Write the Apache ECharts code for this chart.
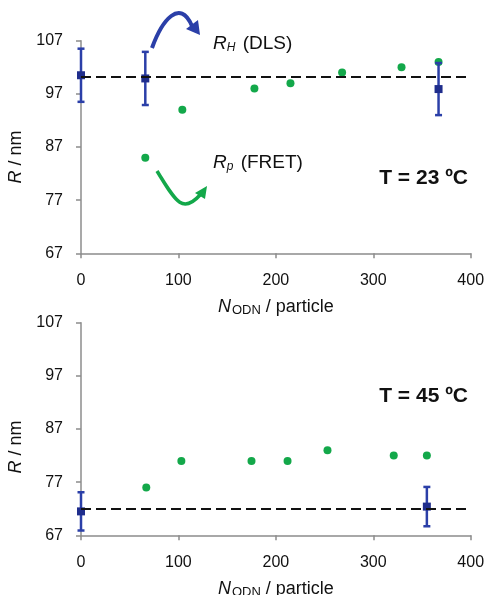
<!DOCTYPE html>
<html>
<head>
<meta charset="utf-8">
<script src="https://cdn.jsdelivr.net/npm/echarts@6/dist/echarts.min.js"></script>
<style>
html,body{margin:0;padding:0;background:#fff;}
#c{width:488px;height:595px;}
</style>
</head>
<body>
<div id="c"></div>
<script>
// ---- data (T = 23 ºC) ----
const dlsX23 = [0, 66, 367];
const dlsY23 = [100.5, 99.9, 97.9];
const dlsErr23 = [5.0, 5.0, 4.9];
const dlsMean23 = 100.2;
const fretX23 = [66, 104, 178, 215, 268, 329, 367];
const fretY23 = [85.0, 94.0, 98.0, 99.0, 101.0, 102.0, 103.0];

// ---- data (T = 45 ºC) ----
const dlsX45 = [0, 355];
const dlsY45 = [71.5, 72.4];
const dlsErr45 = [3.6, 3.7];
const dlsMean45 = 72.0;
const fretX45 = [67, 103, 175, 212, 253, 321, 355];
const fretY45 = [76, 81, 81, 81, 83, 82, 82];

// ---- axes ----
const yMin = 67, yMax = 107, yStep = 10;
const xMin = 0, xMax = 400, xStep = 100;
const panelLabels = ['T = 23 ºC', 'T = 45 ºC'];

const BLUE = '#2b3fa8';
const NAVY = '#1f2d8c';
const GREEN = '#13a84a';
const AXIS = '#8c8c8c';
const FONT = '"Liberation Sans", Arial, sans-serif';

function zip(a, b) { return a.map((v, i) => [v, b[i]]); }

function errData(xs, ys, es) { return xs.map((x, i) => [x, ys[i] - es[i], ys[i] + es[i]]); }

function errSeries(idx, data) {
  return {
    type: 'custom', xAxisIndex: idx, yAxisIndex: idx, z: 3,
    data: data,
    encode: { x: 0, y: [1, 2] },
    renderItem: function (params, api) {
      const x = api.value(0);
      const lo = api.coord([x, api.value(1)]);
      const hi = api.coord([x, api.value(2)]);
      const cw = 3.5;
      const st = { stroke: BLUE, lineWidth: 2.5 };
      return {
        type: 'group',
        children: [
          { type: 'line', shape: { x1: lo[0], y1: lo[1], x2: hi[0], y2: hi[1] }, style: st },
          { type: 'line', shape: { x1: lo[0] - cw, y1: lo[1], x2: lo[0] + cw, y2: lo[1] }, style: st },
          { type: 'line', shape: { x1: hi[0] - cw, y1: hi[1], x2: hi[0] + cw, y2: hi[1] }, style: st }
        ]
      };
    }
  };
}

function xAxisCfg(idx) {
  return {
    type: 'value', gridIndex: idx, min: xMin, max: xMax, interval: xStep,
    axisLine: { show: true, lineStyle: { color: AXIS, width: 1.5 } },
    axisTick: { show: true, length: 5, lineStyle: { color: AXIS, width: 1.5 } },
    splitLine: { show: false },
    axisLabel: { fontFamily: FONT, fontSize: 16, color: '#111', margin: 19 },
    name: '{i|N}{s|ODN}{n| / particle}',
    nameLocation: 'middle', nameGap: 43,
    nameTextStyle: {
      rich: {
        i: { fontFamily: FONT, fontSize: 18, fontStyle: 'italic', color: '#111' },
        s: { fontFamily: FONT, fontSize: 13, color: '#111', verticalAlign: 'bottom', padding: [8, 0, 0, 1] },
        n: { fontFamily: FONT, fontSize: 18, color: '#111' }
      }
    }
  };
}

function yAxisCfg(idx, pad) {
  return {
    type: 'value', gridIndex: idx, min: yMin, max: yMax, interval: yStep,
    axisLine: { show: true, lineStyle: { color: AXIS, width: 1.5 } },
    axisTick: { show: true, length: 5, lineStyle: { color: AXIS, width: 1.5 } },
    splitLine: { show: false },
    axisLabel: { fontFamily: FONT, fontSize: 16, color: '#111', margin: 18 },
    name: '{i|R}{n| / nm}',
    nameLocation: 'middle', nameGap: 52, nameRotate: 90,
    nameTextStyle: {
      padding: pad,
      rich: {
        i: { fontFamily: FONT, fontSize: 18, fontStyle: 'italic', color: '#111' },
        n: { fontFamily: FONT, fontSize: 18, color: '#111' }
      }
    }
  };
}

function meanLine(v) {
  return {
    silent: true, symbol: 'none', label: { show: false },
    lineStyle: { color: '#111', type: [10, 5], width: 2, opacity: 1 },
    data: [{ yAxis: v }]
  };
}

const option = {
  animation: false,
  backgroundColor: '#fff',
  grid: [
    { left: 81, top: 40.7, width: 389.7, height: 212.6, containLabel: false, outerBoundsMode: 'none' },
    { left: 81, top: 322.7, width: 389.7, height: 212.6, containLabel: false, outerBoundsMode: 'none' }
  ],
  xAxis: [xAxisCfg(0), xAxisCfg(1)],
  yAxis: [yAxisCfg(0, [0, 20, 0, 0]), yAxisCfg(1, [0, 36, 0, 0])],
  series: [
    { type: 'scatter', xAxisIndex: 0, yAxisIndex: 0, data: zip(fretX23, fretY23), symbol: 'circle', symbolSize: 8, itemStyle: { color: GREEN, opacity: 1 }, z: 2 },
    errSeries(0, errData(dlsX23, dlsY23, dlsErr23)),
    { type: 'scatter', xAxisIndex: 0, yAxisIndex: 0, data: zip(dlsX23, dlsY23), symbol: 'rect', symbolSize: 8, itemStyle: { color: NAVY, opacity: 1 }, z: 4, markLine: meanLine(dlsMean23) },

    { type: 'scatter', xAxisIndex: 1, yAxisIndex: 1, data: zip(fretX45, fretY45), symbol: 'circle', symbolSize: 8, itemStyle: { color: GREEN, opacity: 1 }, z: 2 },
    errSeries(1, errData(dlsX45, dlsY45, dlsErr45)),
    { type: 'scatter', xAxisIndex: 1, yAxisIndex: 1, data: zip(dlsX45, dlsY45), symbol: 'rect', symbolSize: 8, itemStyle: { color: NAVY, opacity: 1 }, z: 4, markLine: meanLine(dlsMean45) }
  ],
  graphic: [
    { type: 'text', right: 20, top: 168, style: { text: panelLabels[0], font: 'bold 21px ' + FONT, fill: '#111' } },
    { type: 'text', right: 20, top: 386, style: { text: panelLabels[1], font: 'bold 21px ' + FONT, fill: '#111' } },
    { type: 'text', left: 213, top: 34, style: {
        text: '{i|R}{s|H}{n| (DLS)}',
        rich: {
          i: { fontFamily: FONT, fontSize: 19, fontStyle: 'italic', fill: '#111' },
          s: { fontFamily: FONT, fontSize: 12, fontStyle: 'italic', fill: '#111', padding: [9, 2, 0, 0] },
          n: { fontFamily: FONT, fontSize: 19, fill: '#111' }
        } } },
    { type: 'text', left: 213, top: 153, style: {
        text: '{i|R}{s|p}{n| (FRET)}',
        rich: {
          i: { fontFamily: FONT, fontSize: 19, fontStyle: 'italic', fill: '#111' },
          s: { fontFamily: FONT, fontSize: 12, fontStyle: 'italic', fill: '#111', padding: [9, 2, 0, 0] },
          n: { fontFamily: FONT, fontSize: 19, fill: '#111' }
        } } },
    { type: 'bezierCurve', shape: { x1: 152, y1: 48, cpx1: 162, cpy1: 20, cpx2: 180, cpy2: -2, x2: 192, y2: 26 },
      style: { stroke: BLUE, lineWidth: 4, fill: null } },
    { type: 'polygon', shape: { points: [[186, 29], [198, 20], [200, 35]] }, style: { fill: BLUE } },
    { type: 'bezierCurve', shape: { x1: 157, y1: 171, cpx1: 175, cpy1: 200, cpx2: 182, cpy2: 215, x2: 200, y2: 195 },
      style: { stroke: GREEN, lineWidth: 3.5, fill: null } },
    { type: 'polygon', shape: { points: [[195, 193], [207, 186], [205, 199]] }, style: { fill: GREEN } }
  ]
};

const chart = echarts.init(document.getElementById('c'), null, { renderer: 'canvas' });
chart.setOption(option);
</script>
</body>
</html>
